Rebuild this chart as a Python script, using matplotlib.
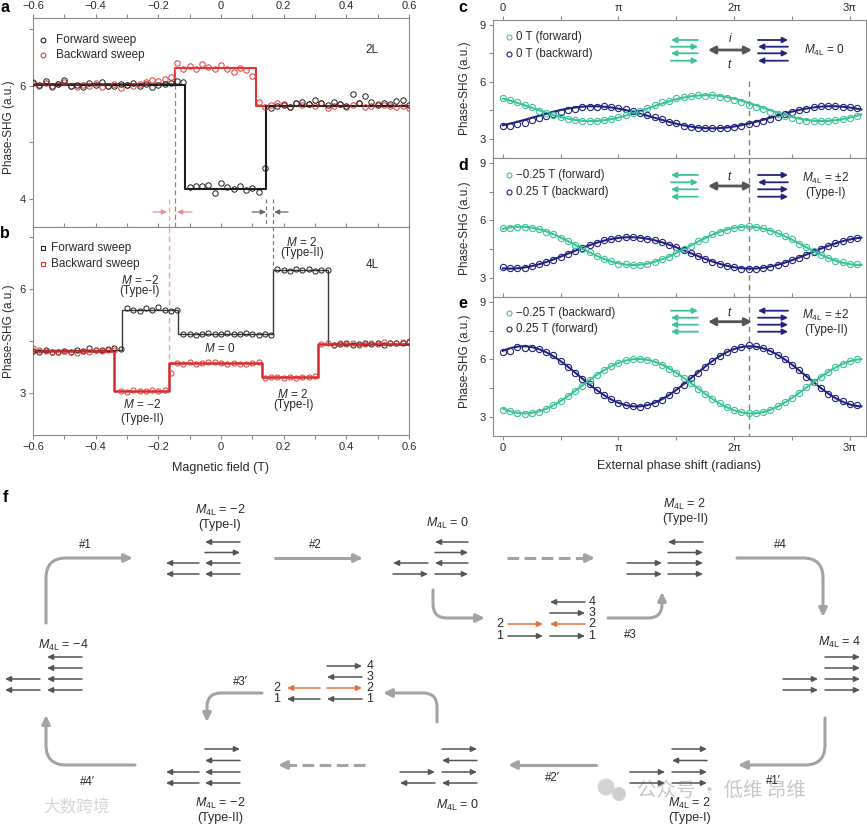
import numpy as np
import matplotlib
matplotlib.use("Agg")
import matplotlib.pyplot as plt
from matplotlib.patches import FancyArrowPatch, Circle
from matplotlib.path import Path
from matplotlib.ticker import FixedLocator, FuncFormatter, FixedFormatter

plt.rcParams['font.family'] = ['Liberation Sans', 'DejaVu Sans']
plt.rcParams['mathtext.fontset'] = 'custom'
plt.rcParams['mathtext.rm'] = 'Liberation Sans'
plt.rcParams['mathtext.it'] = 'Liberation Sans:italic'

# ---------------- data: panels a, b (field sweeps) ----------------
field = np.round(np.linspace(-0.6, 0.6, 61), 3)

a_forward = [6.05, 6.02, 6.08, 6.00, 6.03, 6.10, 6.00, 6.02, 5.98, 6.05, 6.02, 6.06, 5.99,
             6.00, 6.03, 6.01, 6.05, 6.00, 6.03, 5.98, 6.02, 6.04, 6.05, 6.08, 6.07,
             4.20, 4.22, 4.23, 4.25, 4.10, 4.28, 4.20, 4.18, 4.22, 4.15, 4.19, 4.12,
             4.55,
             5.60, 5.65, 5.66, 5.62, 5.70, 5.72, 5.68, 5.75, 5.70, 5.66, 5.72, 5.68, 5.65,
             5.85, 5.70, 5.82, 5.72, 5.66, 5.70, 5.68, 5.73, 5.75, 5.66]
a_backward = [6.06, 6.00, 6.05, 5.98, 6.03, 6.07, 6.00, 5.97, 6.02, 6.00, 6.05, 5.98, 6.00,
              6.03, 5.96, 6.02, 6.00, 6.04, 6.06, 6.10, 6.08, 6.12, 6.15,
              6.40, 6.30, 6.35, 6.30, 6.38, 6.33, 6.30, 6.36, 6.30, 6.25, 6.32, 6.28, 6.18,
              5.72,
              5.63, 5.66, 5.70, 5.68, 5.62, 5.70, 5.66, 5.68, 5.64, 5.70, 5.60, 5.65, 5.67,
              5.62, 5.66, 5.70, 5.63, 5.65, 5.68, 5.66, 5.64, 5.62, 5.65, 5.60]
a_forward_edges = [-0.6, -0.116, 0.145, 0.6]
a_forward_levels = [6.02, 4.18, 5.64]
a_backward_edges = [-0.6, -0.146, 0.113, 0.6]
a_backward_levels = [6.03, 6.32, 5.64]

b_forward = [4.22, 4.20, 4.24, 4.20, 4.18, 4.22, 4.20, 4.25, 4.22, 4.30, 4.24, 4.26, 4.28, 4.30, 4.27,
             5.45, 5.40, 5.38, 5.45, 5.42, 5.50, 5.40, 5.38, 5.40,
             4.72, 4.70, 4.68, 4.70, 4.75, 4.72, 4.70, 4.74, 4.72, 4.70, 4.73, 4.70, 4.68, 4.70, 4.68,
             6.60, 6.55, 6.52, 6.58, 6.55, 6.60, 6.52, 6.55, 6.55,
             4.40, 4.42, 4.45, 4.40, 4.43, 4.45, 4.42, 4.44, 4.40, 4.45, 4.46, 4.44, 4.48]
b_backward = [4.30, 4.26, 4.22, 4.20, 4.18, 4.22, 4.20, 4.16, 4.22, 4.20, 4.24, 4.22, 4.26, 4.24,
              3.08, 3.05, 3.10, 3.07, 3.06, 3.10, 3.08, 3.10,
              3.60,
              3.88, 3.85, 3.90, 3.86, 3.88, 3.92, 3.90, 3.87, 3.85, 3.88, 3.86, 3.85, 3.88, 3.90,
              3.45, 3.48, 3.46, 3.44, 3.47, 3.45, 3.48, 3.46, 3.50,
              4.42, 4.45, 4.40, 4.44, 4.42, 4.46, 4.40, 4.43, 4.45, 4.42, 4.47, 4.44, 4.46, 4.48, 4.50]
b_forward_edges = [-0.6, -0.315, -0.137, 0.166, 0.342, 0.6]
b_forward_levels = [4.24, 5.42, 4.71, 6.55, 4.42]
b_backward_edges = [-0.6, -0.34, -0.167, 0.131, 0.31, 0.6]
b_backward_levels = [4.22, 3.08, 3.87, 3.46, 4.43]

# ---------------- data: panels c, d, e (phase scans) ----------------
phase = np.arange(50) * np.pi / 16
c_green = [5.13, 5.05, 4.92, 4.76, 4.66, 4.49, 4.39, 4.24, 4.16, 4.05, 4.00, 3.97, 3.93, 3.96, 4.00,
           4.05, 4.16, 4.24, 4.38, 4.49, 4.65, 4.77, 4.92, 5.00, 5.13, 5.20, 5.27, 5.30, 5.28, 5.29,
           5.22, 5.17, 5.05, 4.96, 4.81, 4.70, 4.55, 4.43, 4.29, 4.19, 4.08, 4.02, 3.97, 3.95, 3.93,
           3.95, 3.99, 4.05, 4.12, 4.20]
c_navy = [3.66, 3.70, 3.78, 3.86, 3.98, 4.09, 4.22, 4.31, 4.44, 4.50, 4.60, 4.66, 4.70, 4.69, 4.72,
          4.68, 4.62, 4.57, 4.47, 4.37, 4.25, 4.14, 4.03, 3.90, 3.82, 3.70, 3.65, 3.60, 3.56, 3.58,
          3.55, 3.60, 3.62, 3.68, 3.76, 3.86, 3.95, 4.06, 4.18, 4.30, 4.42, 4.52, 4.60, 4.66, 4.72,
          4.74, 4.72, 4.70, 4.66, 4.62]
d_green = [5.60, 5.62, 5.65, 5.66, 5.60, 5.55, 5.40, 5.28, 5.10, 4.92, 4.70, 4.50, 4.33, 4.12, 3.98,
           3.86, 3.74, 3.70, 3.66, 3.68, 3.72, 3.82, 3.98, 4.10, 4.30, 4.50, 4.68, 4.90, 5.05, 5.26,
           5.38, 5.50, 5.62, 5.64, 5.68, 5.65, 5.58, 5.46, 5.35, 5.16, 5.00, 4.78, 4.60, 4.40, 4.20,
           4.05, 3.88, 3.80, 3.74, 3.72]
d_navy = [3.55, 3.50, 3.50, 3.52, 3.60, 3.70, 3.82, 3.95, 4.10, 4.25, 4.42, 4.55, 4.72, 4.82, 4.95,
          5.05, 5.10, 5.12, 5.15, 5.10, 5.02, 4.95, 4.86, 4.72, 4.60, 4.45, 4.28, 4.12, 3.98, 3.85,
          3.72, 3.62, 3.55, 3.48, 3.45, 3.46, 3.50, 3.58, 3.66, 3.78, 3.92, 4.06, 4.20, 4.36, 4.52,
          4.68, 4.80, 4.90, 5.00, 5.06]
e_green = [3.38, 3.28, 3.20, 3.15, 3.18, 3.25, 3.40, 3.62, 3.84, 4.08, 4.35, 4.62, 4.92, 5.20, 5.45,
           5.66, 5.82, 5.95, 6.00, 6.02, 5.98, 5.88, 5.70, 5.52, 5.30, 5.02, 4.75, 4.46, 4.20, 3.92,
           3.70, 3.50, 3.34, 3.24, 3.20, 3.22, 3.25, 3.38, 3.55, 3.76, 4.00, 4.26, 4.55, 4.84, 5.10,
           5.36, 5.58, 5.78, 5.92, 6.00]
e_navy = [6.38, 6.45, 6.62, 6.60, 6.60, 6.55, 6.40, 6.20, 5.92, 5.62, 5.30, 4.98, 4.70, 4.40, 4.12,
          3.92, 3.72, 3.60, 3.58, 3.50, 3.62, 3.74, 3.90, 4.12, 4.40, 4.68, 5.00, 5.30, 5.62, 5.92,
          6.18, 6.40, 6.55, 6.62, 6.75, 6.70, 6.60, 6.45, 6.22, 6.00, 5.72, 5.42, 5.10, 4.80, 4.50,
          4.20, 3.98, 3.80, 3.66, 3.60]
# sinusoidal fits: offset, amplitude, peak position (x pi), period (x pi)
c_green_fit = [4.62, 0.68, 1.76, 2.00]
c_navy_fit = [4.14, 0.58, 0.78, 2.06]
d_green_fit = [4.67, 1.00, 2.11, 1.96]
d_navy_fit = [4.30, 0.82, 1.10, 2.08]
e_green_fit = [4.60, 1.42, 1.17, 1.96]
e_navy_fit = [5.11, 1.57, 0.175, 1.96]
c_labels = ['0 T (forward)', '0 T (backward)']
d_labels = ['\u22120.25 T (forward)', '0.25 T (backward)']
e_labels = ['\u22120.25 T (backward)', '0.25 T (forward)']
phase_ticks = [0, np.pi, 2 * np.pi, 3 * np.pi]
phase_ticklabels = ['0', '\u03c0', '2\u03c0', '3\u03c0']
marker_phase = 2.13 * np.pi

# ---------------- styles ----------------
W, H = 867, 825
SP = '#8a8a8a'
TXT = '#2a2a2a'
BLK = '#1e1e1e'
RED = '#e03838'
PINK = '#f2a3a3'
GREEN = '#3cc39b'
NAVY = '#23237f'
ORANGE = '#ea6f3a'
ARR = '#555555'
PATHC = '#a3a3a3'

fig = plt.figure(figsize=(W / 100, H / 100), dpi=100)


def px_axes(l, t, r, b):
    return fig.add_axes([l / W, 1 - b / H, (r - l) / W, (b - t) / H])


def style(ax):
    for s in ax.spines.values():
        s.set_color(SP)
        s.set_linewidth(0.8)
    ax.tick_params(which='both', direction='out', color=SP, labelcolor=TXT,
                   labelsize=8, length=3, width=0.8, pad=2)


def fmt_field(v, p):
    if abs(v) < 1e-9:
        return '0'
    return ('%.1f' % v).replace('-', '\u2212')


axa = px_axes(33, 18, 409, 227)
axb = px_axes(33, 227, 409, 435)
axc = px_axes(493, 20, 866, 158)
axd = px_axes(493, 158, 866, 297)
axe = px_axes(493, 297, 866, 436)

MS_AB = 3.9
MS_CE = 4.5

# ---- panel a ----
ax = axa
style(ax)
ax.plot(a_backward_edges, a_backward_levels + [a_backward_levels[-1]], drawstyle='steps-post',
        color=RED, lw=1.5, zorder=2)
ax.plot(a_forward_edges, a_forward_levels + [a_forward_levels[-1]], drawstyle='steps-post',
        color=BLK, lw=1.5, zorder=3)
ax.plot(field, a_backward, 'o', ms=MS_AB, mfc='none', mec=RED, mew=0.7, zorder=4)
ax.plot(field, a_forward, 'o', ms=MS_AB, mfc='none', mec=BLK, mew=0.7, zorder=5)
ax.plot([a_backward_edges[1]] * 2, [a_backward_levels[1], 3.5], ls=(0, (4, 2.5)), color='#e06060', lw=0.9)
ax.plot([-0.166] * 2, [4.0, 3.5], ls=(0, (4, 2.5)), color=PINK, lw=0.9)
ax.plot([a_forward_edges[2]] * 2, [4.0, 3.5], ls=(0, (3, 2.5)), color='#777777', lw=0.9)
ax.plot([0.166] * 2, [4.0, 3.5], ls=(0, (3, 2.5)), color='#777777', lw=0.9)
ax.set_xlim(-0.6, 0.6)
ax.set_ylim(3.5, 7.2)
ax.xaxis.set_major_locator(FixedLocator(np.round(np.arange(-0.6, 0.61, 0.2), 1)))
ax.xaxis.set_minor_locator(FixedLocator(np.round(np.arange(-0.5, 0.6, 0.2), 1)))
ax.xaxis.set_major_formatter(FuncFormatter(fmt_field))
ax.set_yticks([4, 6])
ax.set_yticks([5, 7], minor=True)
ax.tick_params(axis='x', which='both', top=True, labeltop=True, bottom=False, labelbottom=False)

# ---- panel b ----
ax = axb
style(ax)
ax.plot(b_forward_edges, b_forward_levels + [b_forward_levels[-1]], drawstyle='steps-post',
        color='#3a3a3a', lw=1.0, zorder=2)
ax.plot(b_backward_edges, b_backward_levels + [b_backward_levels[-1]], drawstyle='steps-post',
        color='#d42a2a', lw=1.8, zorder=3)
ax.plot(field, b_forward, 'o', ms=MS_AB - 0.2, mfc='none', mec=BLK, mew=0.7, zorder=4)
ax.plot(field, b_backward, 'o', ms=MS_AB - 0.2, mfc='none', mec=RED, mew=0.7, zorder=5)
ax.plot([b_backward_edges[2]] * 2, [7.8, 3.6], ls=(0, (4, 2.5)), color=PINK, lw=1.0)
ax.plot([b_forward_edges[3]] * 2, [7.8, b_forward_levels[3]], ls=(0, (3, 2.5)), color='#777777', lw=0.9)
ax.set_xlim(-0.6, 0.6)
ax.set_ylim(1.8, 7.8)
ax.xaxis.set_major_locator(FixedLocator(np.round(np.arange(-0.6, 0.61, 0.2), 1)))
ax.xaxis.set_minor_locator(FixedLocator(np.round(np.arange(-0.5, 0.6, 0.2), 1)))
ax.xaxis.set_major_formatter(FuncFormatter(fmt_field))
ax.set_yticks([3, 6])
ax.set_yticks([4.5, 7.5], minor=True)
ax.tick_params(axis='x', which='both', top=True, labeltop=False, bottom=True, labelbottom=True)


def fit(p, x):
    return p[0] + p[1] * np.cos(2 * np.pi * (x / np.pi - p[2]) / p[3])


xfit = np.linspace(0, 3.1 * np.pi, 400)
for ax, g, n, gf, nf in [(axc, c_green, c_navy, c_green_fit, c_navy_fit),
                         (axd, d_green, d_navy, d_green_fit, d_navy_fit),
                         (axe, e_green, e_navy, e_green_fit, e_navy_fit)]:
    style(ax)
    ax.plot(xfit, fit(nf, xfit), color=NAVY, lw=1.5, zorder=2)
    ax.plot(xfit, fit(gf, xfit), color=GREEN, lw=1.5, zorder=3)
    ax.plot(phase, n, 'o', ms=MS_CE, mfc='none', mec=NAVY, mew=0.8, zorder=4)
    ax.plot(phase, g, 'o', ms=MS_CE, mfc='none', mec=GREEN, mew=0.8, zorder=5)
    ax.set_xlim(-0.085 * np.pi, 3.14 * np.pi)
    ax.set_ylim(2.0, 9.25)
    ax.xaxis.set_major_locator(FixedLocator(phase_ticks))
    ax.xaxis.set_major_formatter(FixedFormatter(phase_ticklabels))
    ax.xaxis.set_minor_locator(FixedLocator([0.5 * np.pi, 1.5 * np.pi, 2.5 * np.pi]))
    ax.set_yticks([3, 6, 9])
    ax.set_yticks([4.5, 7.5], minor=True)
    top = 6.05 if ax is axc else 9.25
    ax.plot([marker_phase] * 2, [top, 2.0], ls=(0, (4, 3)), color='#808080', lw=1.0, zorder=1)

axc.tick_params(axis='x', which='both', top=True, labeltop=True, bottom=False, labelbottom=False)
axd.tick_params(axis='x', which='both', top=True, labeltop=False, bottom=False, labelbottom=False)
axe.tick_params(axis='x', which='both', top=True, labeltop=False, bottom=True, labelbottom=True)

# ---------------- overlay (pixel coordinates) ----------------
ov = fig.add_axes([0, 0, 1, 1], zorder=10)
ov.set_xlim(0, W)
ov.set_ylim(H, 0)
ov.axis('off')


def small_arrow(x0, x1, y, d, color=ARR, lw=1.1, hl=3.4, hw=1.6):
    a, b = (x0, x1) if d == 'R' else (x1, x0)
    ov.add_patch(FancyArrowPatch((a, y), (b, y),
                                 arrowstyle='-|>,head_length=%g,head_width=%g' % (hl, hw),
                                 color=color, lw=lw, shrinkA=0, shrinkB=0, mutation_scale=1))


def path_arrow(pts, r=16, dashed=False, color=PATHC, lw=2.2):
    pts = [np.array(p, float) for p in pts]
    if dashed:
        p0, p1 = pts
        u = (p1 - p0) / np.linalg.norm(p1 - p0)
        pe = p1 - u * 9
        ov.plot([p0[0], pe[0]], [p0[1], pe[1]], color=color, lw=lw, ls=(0, (3.8, 1.8)),
                solid_capstyle='butt', dash_capstyle='butt')
        ov.add_patch(FancyArrowPatch(tuple(pe - u * 2), tuple(p1),
                                     arrowstyle='-|>,head_length=5,head_width=2.4',
                                     color=color, lw=lw, shrinkA=0, shrinkB=0, mutation_scale=1))
        return
    if len(pts) == 2:
        verts = pts
        codes = [Path.MOVETO, Path.LINETO]
    else:
        p0, c, p1 = pts
        u0 = (c - p0) / np.linalg.norm(c - p0)
        u1 = (p1 - c) / np.linalg.norm(p1 - c)
        verts = [p0, c - u0 * r, c, c + u1 * r, p1]
        codes = [Path.MOVETO, Path.LINETO, Path.CURVE3, Path.CURVE3, Path.LINETO]
    ov.add_patch(FancyArrowPatch(path=Path(verts, codes),
                                 arrowstyle='-|>,head_length=5,head_width=2.4',
                                 color=color, lw=lw, mutation_scale=1))


def txt(x, y, s, fs=8.5, **kw):
    kw.setdefault('ha', 'center')
    kw.setdefault('va', 'center')
    kw.setdefault('color', TXT)
    ov.text(x, y, s, fontsize=fs, **kw)


M = r'$M_{\mathrm{4L}}$'

# panel letters
for (x, y, s) in [(5, 8, 'a'), (5, 233, 'b'), (463, 8, 'c'), (463, 165, 'd'), (463, 303, 'e'), (5, 497, 'f')]:
    ov.text(x, y, s, fontsize=11.5, fontweight='bold', ha='center', va='center', color='black')

# axis labels
txt(9, 127, 'Phase-SHG (a.u.)', fs=8.5, rotation=90)
txt(9, 331, 'Phase-SHG (a.u.)', fs=8.5, rotation=90)
for yc in (88, 228, 361):
    txt(465, yc, 'Phase-SHG (a.u.)', fs=8.5, rotation=90)
txt(221, 468, 'Magnetic field (T)', fs=9)
txt(679, 466, 'External phase shift (radians)', fs=9)

# legends a, b
for (y, c, lab) in [(40, BLK, 'Forward sweep'), (55, RED, 'Backward sweep')]:
    ov.plot([43], [y], 'o', ms=3.4, mfc='none', mec=c, mew=0.8)
    txt(56, y, lab, fs=8.5, ha='left')
for (y, c, lab) in [(248, BLK, 'Forward sweep'), (264, RED, 'Backward sweep')]:
    ov.plot([43], [y], 's', ms=3.0, mfc='none', mec=c, mew=0.8)
    txt(51, y, lab, fs=8.5, ha='left')
txt(372, 50, '2L', fs=8.5)
txt(372, 265, '4L', fs=8.5)

# panel b state annotations
for (x, y1, y2, s1, s2) in [(302, 242, 253, '$M$ = 2', '(Type-II)'),
                            (140, 280, 291, '$M$ = \u22122', '(Type-I)'),
                            (142, 405, 419, '$M$ = \u22122', '(Type-II)'),
                            (293, 394, 405, '$M$ = 2', '(Type-I)')]:
    txt(x, y1, s1, fs=8.5)
    txt(x, y2, s2, fs=8.5)
txt(220, 348, '$M$ = 0', fs=8.5)

# small arrows under panel a
small_arrow(153, 167, 212, 'R', color='#ec8a8a', lw=0.9, hl=3, hw=1.4)
small_arrow(177, 192, 212, 'L', color='#ec8a8a', lw=0.9, hl=3, hw=1.4)
small_arrow(252, 266, 212, 'R', color='#666666', lw=0.9, hl=3, hw=1.4)
small_arrow(274, 288, 212, 'L', color='#666666', lw=0.9, hl=3, hw=1.4)

# legends and insets c, d, e
for (rows, labs) in [((37, 54), c_labels), ((175, 192), d_labels), ((313, 329), e_labels)]:
    for y, c, lab in zip(rows, (GREEN, NAVY), labs):
        ov.plot([509], [y], 'o', ms=3.6, mfc='none', mec=c, mew=0.8)
        txt(516, y, lab, fs=8.3, ha='left')

insets = [([40, 46.7, 53.3, 60.7], 'LRLR', 'RLRL', 50),
          ([175, 182.3, 189.3, 196.7], 'LRLL', 'RLRR', 186),
          ([310.7, 317.7, 324.7, 331.7], 'RLLL', 'LRRR', 321.7)]
for rows, gd, nd, yarr in insets:
    for y, d in zip(rows, gd):
        small_arrow(671, 698, y, d, color=GREEN, lw=1.3, hl=3.2, hw=1.6)
    for y, d in zip(rows, nd):
        small_arrow(758, 788, y, d, color=NAVY, lw=1.3, hl=3.2, hw=1.6)
    ov.add_patch(FancyArrowPatch((708, yarr), (752, yarr),
                                 arrowstyle='<|-|>,head_length=4.2,head_width=2.2',
                                 color=ARR, lw=2.0, shrinkA=0, shrinkB=0, mutation_scale=1))
txt(730, 39, '$i$', fs=8.5)
txt(730, 65, '$t$', fs=8.5)
txt(730, 177, '$t$', fs=8.5)
txt(730, 313, '$t$', fs=8.5)
txt(824, 50, M + ' = 0', fs=8.5)
txt(826, 178, M + ' = \u00b12', fs=8.5)
txt(826, 193, '(Type-I)', fs=8.5)
txt(826, 315, M + ' = \u00b12', fs=8.5)
txt(826, 330, '(Type-II)', fs=8.5)

# ---------------- panel f diagram ----------------
top_rows = [542, 552.5, 563, 574]
side_rows = [657, 668, 679, 690]
bot_rows = [749, 760.5, 772, 783]
f_stacks = [
    ((205, 240), (166, 199), top_rows, 'LRLL', 'LL'),   # M=-2 Type-I
    ((435, 468), (393, 428), top_rows, 'LRLR', 'LR'),   # M=0
    ((668, 703), (627, 662), top_rows, 'LRRR', 'RR'),   # M=2 Type-II
    ((825, 860), (783, 818), side_rows, 'RRRR', 'RR'),  # M=4
    ((47, 82), (5, 40), side_rows, 'LLLL', 'LL'),       # M=-4
    ((205, 240), (166, 199), bot_rows, 'RLLL', 'LL'),   # M=-2 Type-II
    ((442, 477), (400, 435), bot_rows, 'RLRL', 'RL'),   # M=0
    ((672, 707), (630, 665), bot_rows, 'RLRR', 'RR'),   # M=2 Type-I
]
for xr, xl, rows, dr, dl in f_stacks:
    for y, d in zip(rows, dr):
        small_arrow(xr[0], xr[1], y, d)
    for y, d in zip(rows[2:], dl):
        small_arrow(xl[0], xl[1], y, d)

# intermediate states (#3 and #3')
for y, d, c in zip([624, 636], 'RR', [ORANGE, ARR]):
    small_arrow(508, 543, y, d, color=c)
for y, d, c in zip([602, 613, 624, 636], 'LRLR', [ARR, ARR, ORANGE, ARR]):
    small_arrow(550, 585, y, d, color=c)
for y, s in zip([624, 636], '21'):
    txt(500, y, s, fs=9)
for y, s in zip([602, 613, 624, 636], '4321'):
    txt(592, y, s, fs=9)
for y, d, c in zip([688, 699], 'LL', [ORANGE, ARR]):
    small_arrow(287, 320, y, d, color=c)
for y, d, c in zip([666, 677, 688, 699], 'RLRL', [ARR, ARR, ORANGE, ARR]):
    small_arrow(327, 362, y, d, color=c)
for y, s in zip([688, 699], '21'):
    txt(277, y, s, fs=9)
for y, s in zip([666, 677, 688, 699], '4321'):
    txt(370, y, s, fs=9)

# transition paths
path_arrow([(46, 623), (46, 558), (133, 558)], r=20)
path_arrow([(275, 558), (363, 558)])
path_arrow([(507, 558), (595, 558)], dashed=True)
path_arrow([(737, 558), (823, 558), (823, 617)], r=20)
path_arrow([(433, 590), (433, 618), (485, 618)], r=14)
path_arrow([(608, 618), (662, 618), (662, 592)], r=14)
path_arrow([(825, 718), (825, 765), (738, 765)], r=20)
path_arrow([(596, 765), (508, 765)])
path_arrow([(365, 765), (278, 765)], dashed=True)
path_arrow([(135, 765), (46, 765), (46, 715)], r=20)
path_arrow([(262, 693), (207, 693), (207, 722)], r=14)
path_arrow([(437, 722), (437, 693), (383, 693)], r=14)

for (x, y, s) in [(85, 545, '#1'), (315, 545, '#2'), (780, 545, '#4'), (630, 635, '#3'),
                  (773, 781, '#1\u2032'), (552, 778, '#2\u2032'), (87, 782, '#4\u2032'), (240, 682, '#3\u2032')]:
    txt(x, y, s, fs=8.3)

txt(220, 510, M + ' = \u22122', fs=9)
txt(220, 525, '(Type-I)', fs=9)
txt(448, 523, M + ' = 0', fs=9)
txt(685, 504, M + ' = 2', fs=9)
txt(685, 519, '(Type-II)', fs=9)
txt(840, 642, M + ' = 4', fs=9)
txt(63, 645, M + ' = \u22124', fs=9)
txt(220, 803, M + ' = \u22122', fs=9)
txt(220, 818, '(Type-II)', fs=9)
txt(458, 805, M + ' = 0', fs=9)
txt(690, 803, M + ' = 2', fs=9)
txt(690, 818, '(Type-I)', fs=9)

# watermarks (light, behind)
ov.add_patch(Circle((606, 787), 8.5, color='#d4d4d4', lw=0, zorder=0))
ov.add_patch(Circle((619, 794), 7, color='#cfcfcf', lw=0, zorder=0))
ov.text(637, 790, '\u516c\u4f17\u53f7 \u00b7 \u4f4e\u7ef4 \u6602\u7ef4', fontsize=14, color='#c8c8c8',
        ha='left', va='center', family=['Noto Sans CJK SC', 'DejaVu Sans'], zorder=0)
ov.text(43, 808, '\u5927\u6570\u8de8\u5883', fontsize=12, color='#d6d6d6',
        ha='left', va='center', family=['Noto Sans CJK SC', 'DejaVu Sans'], zorder=0)

fig.savefig('out.png', dpi=100)
